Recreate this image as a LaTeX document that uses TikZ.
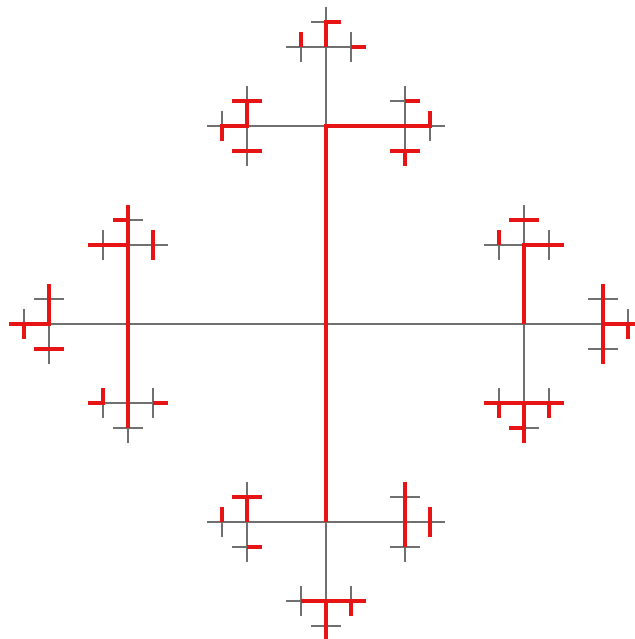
\documentclass[tikz,border=0pt]{standalone}
\usepackage{tikz}
\usepackage{xcolor}
\definecolor{treered}{RGB}{230,20,20}
\definecolor{stemgrey}{RGB}{112,112,112}
\newcommand{\greycross}[3]{%
  \draw[stem] ({#1-#3},{#2}) -- ({#1+#3},{#2}) ({#1},{#2-#3}) -- ({#1},{#2+#3});}

\begin{document}
\begin{tikzpicture}[x=0.02cm,y=-0.02cm,
    stem/.style={stemgrey,line width=0.6pt},
    walk/.style={treered,line width=2pt,line cap=butt,line join=miter}]
  % Frame
  \fill[white] (0,0) rectangle (635,639);
  \useasboundingbox (0,0) rectangle (635,639);
  \clip (0,0) rectangle (635,639);
  % Big cross and its four arms
  \greycross{326}{324}{198}
  \foreach \x/\y in {326/126,326/522,128/324,524/324}
    \greycross{\x}{\y}{79}
  % Third level, with the small crosses away from the parent
  \foreach \x/\y/\u/\v in {247/126/-1/0, 405/126/1/0, 326/47/0/-1,
      247/522/-1/0, 405/522/1/0, 326/601/0/1,
      128/245/0/-1, 128/403/0/1, 49/324/-1/0,
      524/245/0/-1, 524/403/0/1, 603/324/1/0}{
    \greycross{\x}{\y}{25}
    \greycross{\x+25*(\u)}{\y+25*(\v)}{15}
    \greycross{\x+25*(\v)}{\y+25*(\u)}{15}
    \greycross{\x-25*(\v)}{\y-25*(\u)}{15}
  }
  % Red path: trunk and top
  \draw[walk] (430,111) -- (430,126) -- (326,126) -- (326,522);
  \draw[walk] (405,101) -- (420,101);
  \draw[walk] (390,151) -- (420,151) (405,151) -- (405,166);
  \draw[walk] (222,141) -- (222,126) -- (247,126) -- (247,101);
  \draw[walk] (232,101) -- (262,101) (232,151) -- (262,151);
  \draw[walk] (341,22) -- (326,22) -- (326,47);
  \draw[walk] (301,32) -- (301,47) (351,47) -- (366,47);
  % Red path: left
  \draw[walk] (128,205) -- (128,428) (113,220) -- (128,220);
  \draw[walk] (88,245) -- (128,245) (153,230) -- (153,260);
  \draw[walk] (103,388) -- (103,403) -- (88,403) (153,403) -- (168,403);
  \draw[walk] (9,324) -- (49,324) -- (49,284) (24,324) -- (24,339);
  \draw[walk] (34,349) -- (64,349);
  % Red path: right
  \draw[walk] (524,324) -- (524,245) -- (564,245);
  \draw[walk] (499,230) -- (499,245) (509,220) -- (539,220);
  \draw[walk] (603,284) -- (603,364) (603,324) -- (643,324)
    (628,324) -- (628,339);
  \draw[walk] (484,403) -- (564,403) (524,403) -- (524,443)
    (499,403) -- (499,418) (549,403) -- (549,418) (509,428) -- (524,428);
  % Red path: bottom
  \draw[walk] (247,522) -- (247,497) (232,497) -- (262,497);
  \draw[walk] (222,507) -- (222,522) (247,547) -- (262,547);
  \draw[walk] (405,482) -- (405,547) (430,507) -- (430,537);
  \draw[walk] (301,601) -- (366,601) (326,601) -- (326,641)
    (351,601) -- (351,616);
\end{tikzpicture}
\end{document}
